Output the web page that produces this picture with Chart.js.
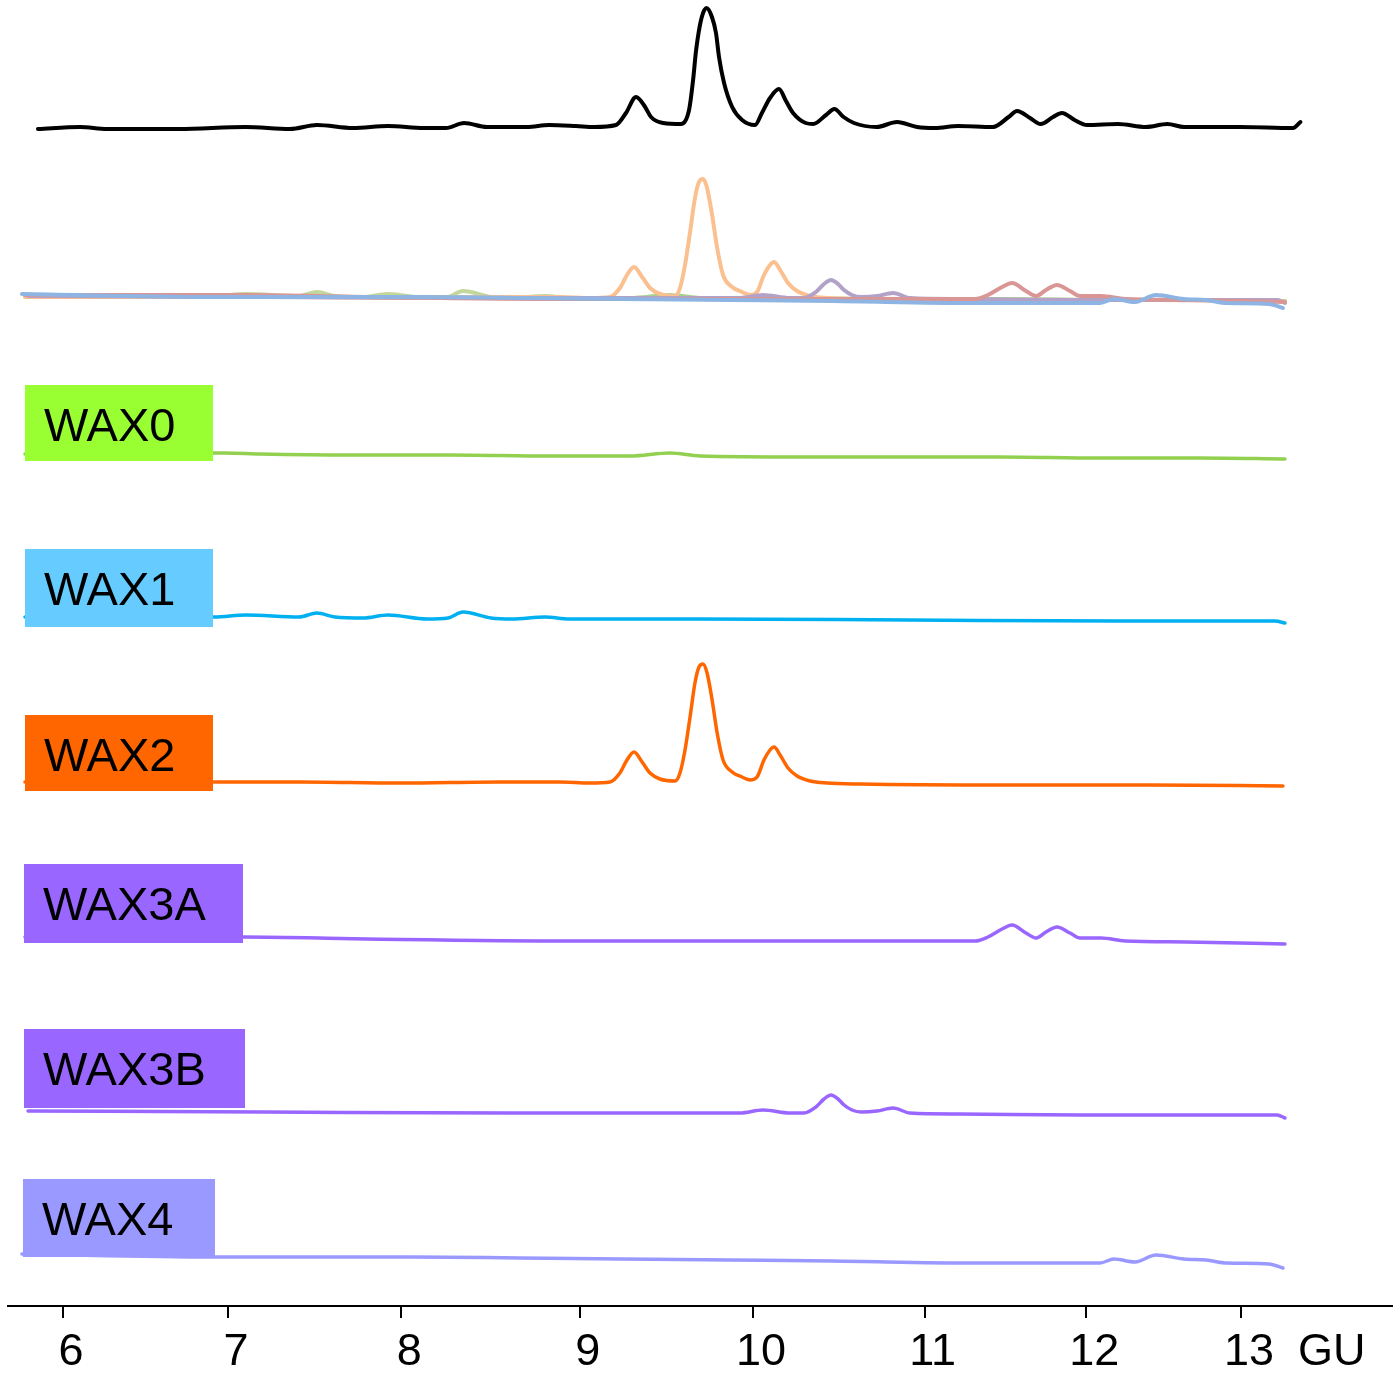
<!DOCTYPE html>
<html>
<head>
<meta charset="utf-8">
<script src="https://cdn.jsdelivr.net/npm/chart.js@4/dist/chart.umd.min.js"></script>
<style>
  html, body { margin: 0; padding: 0; background: #fff; }
  #wrap { width: 1393px; height: 1374px; }
</style>
</head>
<body>
<div id="wrap"><canvas id="gu"></canvas></div>
<script>
// x runs in elution position; GU labels sit where the ladder put them
const guTickAt = [6.0, 6.98, 8.01, 9.07, 10.1, 11.12, 12.08, 13.0];
const guTickLabels = ["6", "7", "8", "9", "10", "11", "12", "13"];

const sampleNames = ["WAX0", "WAX1", "WAX2", "WAX3A", "WAX3B", "WAX4"];
const lineColors = ["#92d050", "#00b0f0", "#ff6600", "#9966ff", "#9966ff", "#9999ff"];
const boxColors = ["#99ff33", "#66ccff", "#ff6600", "#9966ff", "#9966ff", "#9999ff"];
const overlayColors = ["#a9d18e", "#c3d69b", "#fac090", "#d99694", "#b3a2c7", "#8eb4e3"];

// baseline of each trace in the stack (signal units)
const totalOffset = 1178;
const overlayOffset = 1009;
const stackOffset = [851, 688, 524, 367, 194, 49];

// [position, signal]
const total = [
  [5.851, -1], [6.101, 1], [6.261, -1], [6.689, -1], [7.084, 1], [7.349, -1], [7.509, 3],
  [7.723, 0], [7.931, 2], [8.145, 0], [8.276, 0], [8.383, 5], [8.519, 1], [8.757, 1],
  [8.888, 3], [9.048, 2], [9.155, 1], [9.286, 3], [9.345, 15], [9.405, 31], [9.459, 21],
  [9.494, 11], [9.566, 5], [9.673, 4], [9.72, 18], [9.744, 48], [9.762, 78], [9.794, 110],
  [9.824, 120], [9.856, 111], [9.88, 95], [9.898, 71], [9.928, 45], [9.976, 21], [10.035, 8],
  [10.112, 3], [10.153, 15], [10.201, 30], [10.254, 39], [10.296, 27], [10.338, 15], [10.413, 5],
  [10.457, 4], [10.534, 13], [10.584, 19], [10.638, 11], [10.7, 5], [10.834, 1], [10.956, 6],
  [11.075, 1], [11.182, 0], [11.318, 2], [11.526, 1], [11.619, 11], [11.669, 17], [11.746, 10],
  [11.809, 4], [11.883, 11], [11.936, 15], [12.011, 8], [12.085, 3], [12.269, 4], [12.435, 1],
  [12.563, 4], [12.661, 1], [12.81, 1], [12.994, 1], [13.309, 0], [13.353, 6]
];

const wax0 = [
  [5.774, 1], [6.891, 2], [6.963, 2], [7.171, 1], [7.705, 0], [8.3, 0], [8.894, -1],
  [9.369, -1], [9.607, 2], [9.785, -1], [10.379, -2], [10.974, -2], [11.568, -2],
  [12.162, -3], [12.756, -3], [13.261, -4]
];

const wax1 = [
  [5.774, 1], [6.897, 1], [7.087, 3], [7.402, 1], [7.509, 5], [7.616, 1], [7.783, 0],
  [7.931, 3], [8.163, -1], [8.288, 0], [8.377, 6], [8.543, 0], [8.669, -1], [8.864, 1],
  [9.007, -1], [9.761, -1], [11.027, -2], [12.293, -3], [13.202, -3], [13.261, -5]
];

const wax2 = [
  [5.774, 0], [6.891, 0], [7.408, 0], [8.003, -1], [8.597, 0], [8.953, 0], [9.131, -1],
  [9.25, 0], [9.309, 9], [9.351, 22], [9.393, 30], [9.441, 20], [9.488, 9], [9.547, 3],
  [9.637, 1], [9.666, 9], [9.696, 32], [9.726, 65], [9.755, 99], [9.779, 115], [9.803, 118],
  [9.827, 109], [9.857, 82], [9.887, 49], [9.922, 22], [9.976, 10], [10.035, 5], [10.083, 2],
  [10.124, 5], [10.165, 22], [10.201, 32], [10.225, 35], [10.261, 27], [10.308, 14],
  [10.362, 6], [10.439, 1], [10.54, -1], [10.736, -2], [11.568, -3], [12.459, -3], [13.249, -4]
];

const wax3a = [
  [5.774, 2], [7.076, 2], [7.806, 0], [9.025, -2], [10.237, -2], [11.051, -2], [11.419, -2],
  [11.496, 2], [11.58, 10], [11.639, 14], [11.722, 6], [11.782, 1], [11.841, 7], [11.906, 12],
  [11.984, 6], [12.043, 1], [12.168, 1], [12.311, -2], [12.673, -3], [13.261, -5]
];

const wax3b = [
  [5.792, 1], [7.2, 0], [8.656, -1], [9.868, -1], [10.023, -1], [10.159, 2], [10.32, -1],
  [10.403, -1], [10.474, 5], [10.522, 13], [10.564, 17], [10.605, 13], [10.641, 7],
  [10.688, 2], [10.742, 0], [10.837, 1], [10.932, 4], [11.033, -1], [11.324, -2],
  [12.049, -3], [13.214, -3], [13.261, -6]
];

const wax4 = [
  [5.756, 3], [6.897, 0], [7.408, 0], [8.068, 0], [8.716, -1], [9.322, -2], [9.963, -3],
  [10.575, -4], [11.413, -6], [12.162, -6], [12.245, -2], [12.37, -5], [12.495, 2],
  [12.661, -2], [12.792, -3], [12.917, -6], [13.166, -7], [13.249, -11]
];

const samples = [wax0, wax1, wax2, wax3a, wax3b, wax4];

// label boxes drawn over the left end of each trace: [left, top, width, height]
const boxLayout = [
  [25, 385, 188, 76], [25, 549, 188, 78], [25, 715, 188, 76],
  [24, 864, 219, 79], [24, 1029, 221, 79], [23, 1179, 192, 78]
];

const FONT = "'Liberation Sans', Arial, Helvetica, sans-serif";

const toPoints = (trace, offset) => trace.map(([x, s]) => ({ x: x, y: offset + s }));

const lineStyle = {
  fill: false,
  pointRadius: 0,
  tension: 0.3,
  cubicInterpolationMode: "monotone",
  borderJoinStyle: "round",
  borderCapStyle: "round",
};

const datasets = [];

// stacked single traces
samples.forEach((trace, i) => {
  datasets.push({
    ...lineStyle,
    label: sampleNames[i],
    data: toPoints(trace, stackOffset[i]),
    borderColor: lineColors[i],
    borderWidth: 3.5,
  });
});

// total profile on top
datasets.push({
  ...lineStyle,
  label: "total",
  data: toPoints(total, totalOffset),
  borderColor: "#000000",
  borderWidth: 4,
});

// all fractions overlaid, last one drawn on top
[5, 3, 4, 2, 1, 0].forEach((i) => {
  datasets.push({
    ...lineStyle,
    label: sampleNames[i] + " overlay",
    data: toPoints(samples[i], overlayOffset),
    borderColor: overlayColors[i],
    borderWidth: 4,
  });
});

const labelBoxes = {
  id: "labelBoxes",
  afterDatasetsDraw(chart) {
    const ctx = chart.ctx;
    ctx.save();
    sampleNames.forEach((name, i) => {
      const [l, t, w, h] = boxLayout[i];
      ctx.fillStyle = boxColors[i];
      ctx.fillRect(l, t, w, h);
      ctx.fillStyle = "#000";
      ctx.font = "47px " + FONT;
      ctx.textBaseline = "alphabetic";
      ctx.textAlign = "left";
      ctx.fillText(name, l + 19, t + 56);
    });
    // unit after the last tick label
    const xs = chart.scales.x;
    ctx.font = "45px " + FONT;
    ctx.textBaseline = "middle";
    ctx.fillText("GU", xs.getPixelForValue(13) + 57, xs.top + 12 + 8 + 27);
    ctx.restore();
  },
};

new Chart(document.getElementById("gu"), {
  type: "line",
  data: { datasets: datasets },
  plugins: [labelBoxes],
  options: {
    responsive: true,
    maintainAspectRatio: false,
    animation: false,
    events: [],
    layout: { padding: { left: 8, right: 0, top: 0, bottom: 0 } },
    plugins: { legend: { display: false }, tooltip: { enabled: false } },
    scales: {
      x: {
        type: "linear",
        min: 5.673,
        max: 13.903,
        afterBuildTicks: (scale) => {
          scale.ticks = guTickAt.map((v) => ({ value: v }));
        },
        afterFit: (scale) => {
          scale.height = 68;
        },
        border: { display: true, color: "#000", width: 2 },
        grid: {
          display: true,
          drawOnChartArea: false,
          drawTicks: true,
          tickLength: 12,
          color: "#000",
          lineWidth: 2,
        },
        ticks: {
          autoSkip: false,
          maxRotation: 0,
          padding: 8,
          labelOffset: 8,
          color: "#000",
          font: { family: FONT, size: 45 },
          callback: (value, index) => guTickLabels[index],
        },
      },
      y: {
        type: "linear",
        display: false,
        min: 0,
        max: 1306,
      },
    },
  },
});
</script>
</body>
</html>
